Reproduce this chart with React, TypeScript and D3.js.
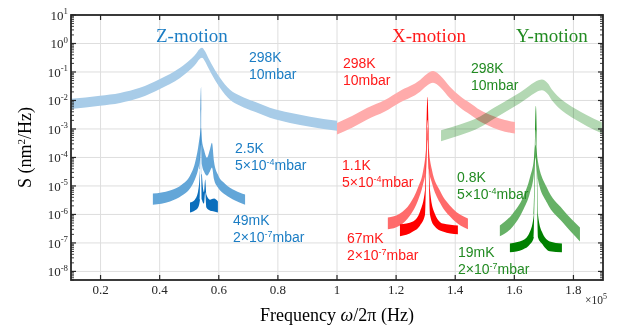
import React, { useEffect } from "react";
import * as d3 from "d3";

// frequency in Hz, PSD in nm^2/Hz
// 298 K, 10 mbar (centre of the noisy band)
const zHotFreq = [10000, 19800, 26600, 33300, 40100, 43500, 46900, 50300, 52300, 53300, 54300, 55300, 56300, 58700, 60400, 63800, 67200, 72200, 77300, 84100, 90900, 100000];
const zHotS = [0.0076, 0.0098, 0.0123, 0.0186, 0.038, 0.057, 0.093, 0.178, 0.29, 0.4, 0.47, 0.36, 0.226, 0.079, 0.042, 0.0158, 0.0098, 0.006, 0.0037, 0.00245, 0.00178, 0.00129];
const xHotFreq = [100000, 105100, 110100, 116200, 121300, 128100, 130300, 132500, 135000, 138200, 141600, 145000, 148400, 152800, 156800, 160200];
const xHotS = [0.00102, 0.00178, 0.0034, 0.0065, 0.0135, 0.0327, 0.052, 0.067, 0.046, 0.019, 0.009, 0.0051, 0.0029, 0.00178, 0.00129, 0.0011];
const yHotFreq = [135200, 141600, 148400, 153400, 158500, 161900, 165300, 167500, 169300, 171300, 172700, 176400, 180500, 184600, 189600];
const yHotS = [5.8e-4, 9.3e-4, 0.00178, 0.0037, 0.0076, 0.0123, 0.022, 0.031, 0.0355, 0.026, 0.0158, 0.0065, 0.0034, 0.00195, 0.0011];
const hotSpread = [1.5, 1.6, 1.55]; // noise band half-width (factor)

// 5e-4 mbar (upper / lower edge of the band)
const zMidFreq = [37700, 43500, 47550, 50260, 51900, 53000, 53640, 54000, 54300, 55000, 56000, 57000, 57700, 58400, 59700, 62100, 65500, 68900];
const zMidHi = [5.4e-6, 6.9e-6, 1.12e-5, 2.3e-5, 6.1e-5, 2.2e-4, 6.3e-4, 0.0011, 4.2e-4, 1.9e-4, 9.8e-5, 1.9e-4, 3.3e-4, 7.1e-5, 2.5e-5, 1.2e-5, 6.9e-6, 5.0e-6];
const zMidLo = [2.2e-6, 2.85e-6, 4.6e-6, 8.1e-6, 1.67e-5, 3.75e-5, 8.4e-5, 2.8e-4, 5.6e-5, 3.2e-5, 2.3e-5, 3.2e-5, 4.4e-5, 1.67e-5, 8.8e-6, 5.0e-6, 3.1e-6, 2.2e-6];
const xMidFreq = [117200, 121300, 124700, 127400, 129100, 130100, 130600, 131100, 132100, 134800, 139200, 144300];
const xMidHi = [7.8e-7, 1.08e-6, 2.4e-6, 8.8e-6, 3.2e-5, 1.9e-4, 0.0012, 1.9e-4, 3.75e-5, 6.9e-6, 1.6e-6, 7.2e-7];
const xMidLo = [3.0e-7, 4.1e-7, 9.2e-7, 3.1e-6, 1.12e-5, 3.75e-5, 4.2e-4, 3.75e-5, 1.3e-5, 2.6e-6, 6.7e-7, 3.0e-7];
const yMidFreq = [155100, 159500, 162900, 165300, 166600, 167100, 168000, 171000, 176400, 182200];
const yMidHi = [4.1e-7, 1.08e-6, 3.9e-6, 2.0e-5, 8.4e-5, 2.8e-4, 7.1e-5, 8.8e-6, 1.5e-6, 3.5e-7];
const yMidLo = [1.7e-7, 3.8e-7, 1.38e-6, 5.9e-6, 2.5e-5, 9.8e-5, 1.67e-5, 2.6e-6, 5.2e-7, 1.13e-7];

// 2e-7 mbar
const zColdFreq = [50260, 51900, 53000, 53640, 54000, 54300, 55000, 55400, 55800, 57000, 58400, 59700];
const zColdHi = [2.6e-6, 3.3e-6, 6.35e-6, 3.75e-5, 0.03, 2.5e-5, 6.0e-6, 1.67e-5, 5.0e-6, 3.3e-6, 3.6e-6, 2.85e-6];
const zColdLo = [1.17e-6, 1.38e-6, 1.75e-6, 3.3e-6, 0.0047, 3.3e-6, 2.4e-6, 6.0e-6, 1.75e-6, 1.38e-6, 1.27e-6, 1.17e-6];
const xColdFreq = [121300, 125700, 128100, 129800, 130600, 131450, 132800, 135800, 140900];
const xColdHi = [4.5e-7, 5.7e-7, 1.27e-6, 7.5e-6, 0.0135, 7.5e-6, 1.27e-6, 4.8e-7, 4.1e-7];
const xColdLo = [1.7e-7, 2.5e-7, 4.1e-7, 1.0e-6, 0.0021, 1.0e-6, 4.1e-7, 2.5e-7, 2.0e-7];
const yColdFreq = [158500, 162900, 165300, 166600, 167300, 168000, 169300, 172000, 176100];
const yColdHi = [9.6e-8, 1.23e-7, 2.5e-7, 1.0e-6, 0.0065, 1.0e-6, 2.5e-7, 1.13e-7, 9.6e-8];
const yColdLo = [4.7e-8, 5.9e-8, 8.9e-8, 1.56e-7, 9.3e-4, 1.56e-7, 9.6e-8, 5.1e-8, 4.7e-8];

const xTickValues = [20000, 40000, 60000, 80000, 100000, 120000, 140000, 160000, 180000];
const xTickLabels = ["0.2", "0.4", "0.6", "0.8", "1", "1.2", "1.4", "1.6", "1.8"];
const yTickExps = [1, 0, -1, -2, -3, -4, -5, -6, -7, -8];

const W = 626;
const H = 329;
const plot = { left: 71, right: 603, top: 15, bottom: 280 };

const serif = "'Liberation Serif', 'Times New Roman', serif";
const sans = "'Liberation Sans', Arial, sans-serif";
const axisColor = "#262626";

const blue = "#1b7dc4";
const red = "#ff1a1a";
const green = "#228b22";

const x = d3.scaleLinear().domain([10000, 190000]).range([plot.left, plot.right]);
const y = d3.scaleLog().domain([5e-9, 10]).range([plot.bottom, plot.top]);

type Pt = { f: number; lo: number; hi: number };

const band = d3
  .area<Pt>()
  .x((d) => x(d.f))
  .y0((d) => y(d.lo))
  .y1((d) => y(d.hi))
  .curve(d3.curveMonotoneX);

const hotPts = (f: number[], s: number[], k: number): Pt[] =>
  f.map((v, i) => ({ f: v, lo: s[i] / k, hi: s[i] * k }));
const edgePts = (f: number[], hi: number[], lo: number[]): Pt[] =>
  f.map((v, i) => ({ f: v, lo: lo[i], hi: hi[i] }));

const Sup = ({ base, exp, size }: { base: string; exp: string; size: number }) => (
  <>
    {base}
    <tspan dy={-size * 0.45} fontSize={size * 0.68}>
      {exp}
    </tspan>
  </>
);

const Note = ({ x0, y0, line1, exp, color }: { x0: number; y0: number; line1: string; exp: string; color: string }) => (
  <text x={x0} y={y0} fill={color} fontFamily={sans} fontSize={14}>
    <tspan x={x0}>{line1}</tspan>
    {exp === "" ? (
      <tspan x={x0} dy={17}>10mbar</tspan>
    ) : (
      <>
        <tspan x={x0} dy={17}>{exp[0] === "5" ? "5×10" : "2×10"}</tspan>
        <tspan dy={-5} fontSize={9}>{exp.slice(1)}</tspan>
        <tspan dy={5}>mbar</tspan>
      </>
    )}
  </text>
);

const App = () => {
  useEffect(() => {
    document.body.style.margin = "0";
  }, []);

  const minors: number[] = [];
  for (let e = -9; e <= 0; e++) {
    for (let m = 2; m <= 9; m++) {
      const v = m * Math.pow(10, e);
      if (v >= 5e-9 && v <= 10) minors.push(v);
    }
  }

  return (
    <svg width={W} height={H} style={{ display: "block", background: "#fff" }}>
      {/* grid */}
      <g stroke="#dedede" strokeWidth={1}>
        {xTickValues.map((v) => (
          <line key={"gx" + v} x1={x(v)} x2={x(v)} y1={plot.top} y2={plot.bottom} />
        ))}
        {yTickExps.map((e) => (
          <line key={"gy" + e} x1={plot.left} x2={plot.right} y1={y(Math.pow(10, e))} y2={y(Math.pow(10, e))} />
        ))}
      </g>

      {/* 298 K bands */}
      <path d={band(hotPts(zHotFreq, zHotS, hotSpread[0])) || ""} fill="#a8cce8" />
      <path d={band(hotPts(xHotFreq, xHotS, hotSpread[1])) || ""} fill="#ffabab" />
      <path d={band(hotPts(yHotFreq, yHotS, hotSpread[2])) || ""} fill="#b3d8b3" style={{ mixBlendMode: "multiply" }} />

      {/* 5e-4 mbar */}
      <path d={band(edgePts(zMidFreq, zMidHi, zMidLo)) || ""} fill="#63a6d8" />
      <path d={band(edgePts(xMidFreq, xMidHi, xMidLo)) || ""} fill="#ff6b6b" />
      <path d={band(edgePts(yMidFreq, yMidHi, yMidLo)) || ""} fill="#66b166" />

      {/* 2e-7 mbar */}
      <path d={band(edgePts(zColdFreq, zColdHi, zColdLo)) || ""} fill="#0b6ebc" />
      <path d={band(edgePts(xColdFreq, xColdHi, xColdLo)) || ""} fill="#ff0000" />
      <path d={band(edgePts(yColdFreq, yColdHi, yColdLo)) || ""} fill="#008000" />

      {/* frame and ticks */}
      <g stroke={axisColor}>
        {xTickValues.map((v) => (
          <g key={"tx" + v}>
            <line x1={x(v)} x2={x(v)} y1={plot.bottom} y2={plot.bottom - 5} strokeWidth={1.2} />
            <line x1={x(v)} x2={x(v)} y1={plot.top} y2={plot.top + 5} strokeWidth={1.2} />
          </g>
        ))}
        {yTickExps.map((e) => (
          <g key={"ty" + e}>
            <line x1={plot.left} x2={plot.left + 5} y1={y(Math.pow(10, e))} y2={y(Math.pow(10, e))} strokeWidth={1.2} />
            <line x1={plot.right} x2={plot.right - 5} y1={y(Math.pow(10, e))} y2={y(Math.pow(10, e))} strokeWidth={1.2} />
          </g>
        ))}
        {minors.map((v, i) => (
          <g key={"my" + i}>
            <line x1={plot.left} x2={plot.left + 3} y1={y(v)} y2={y(v)} strokeWidth={0.9} />
            <line x1={plot.right} x2={plot.right - 3} y1={y(v)} y2={y(v)} strokeWidth={0.9} />
          </g>
        ))}
        <rect x={plot.left} y={plot.top} width={plot.right - plot.left} height={plot.bottom - plot.top} fill="none" strokeWidth={1.8} />
      </g>

      {/* tick labels */}
      <g fill={axisColor} fontFamily={serif} fontSize={13}>
        {xTickValues.map((v, i) => (
          <text key={"lx" + v} x={x(v)} y={plot.bottom + 14} textAnchor="middle">
            {xTickLabels[i]}
          </text>
        ))}
        {yTickExps.map((e) => (
          <text key={"ly" + e} x={plot.left - 3} y={y(Math.pow(10, e)) + 5} textAnchor="end">
            <Sup base="10" exp={String(e)} size={13} />
          </text>
        ))}
        <text x={585} y={304} fontSize={11.5}>
          ×10
          <tspan dy={-5} fontSize={8}>5</tspan>
        </text>
      </g>

      {/* axis titles */}
      <text x={337} y={321} textAnchor="middle" fontFamily={serif} fontSize={18} fill="#000">
        Frequency <tspan fontStyle="italic">ω</tspan>/2π (Hz)
      </text>
      <text transform={`translate(31, ${(plot.top + plot.bottom) / 2}) rotate(-90)`} textAnchor="middle" fontFamily={serif} fontSize={18} fill="#000">
        S (nm<tspan dy={-6} fontSize={11}>2</tspan>
        <tspan dy={6}>/Hz)</tspan>
      </text>

      {/* panel titles */}
      <g fontFamily={serif} fontSize={19}>
        <text x={156} y={42} fill={blue}>Z-motion</text>
        <text x={392} y={42} fill={red}>X-motion</text>
        <text x={516} y={42} fill={green}>Y-motion</text>
      </g>

      {/* condition notes */}
      <Note x0={249} y0={62} line1="298K" exp="" color={blue} />
      <Note x0={235} y0={153} line1="2.5K" exp="5-4" color={blue} />
      <Note x0={233} y0={225} line1="49mK" exp="2-7" color={blue} />
      <Note x0={343} y0={68} line1="298K" exp="" color={red} />
      <Note x0={342} y0={170} line1="1.1K" exp="5-4" color={red} />
      <Note x0={347} y0={243} line1="67mK" exp="2-7" color={red} />
      <Note x0={471} y0={73} line1="298K" exp="" color={green} />
      <Note x0={457} y0={182} line1="0.8K" exp="5-4" color={green} />
      <Note x0={458} y0={257} line1="19mK" exp="2-7" color={green} />
    </svg>
  );
};

export default App;
